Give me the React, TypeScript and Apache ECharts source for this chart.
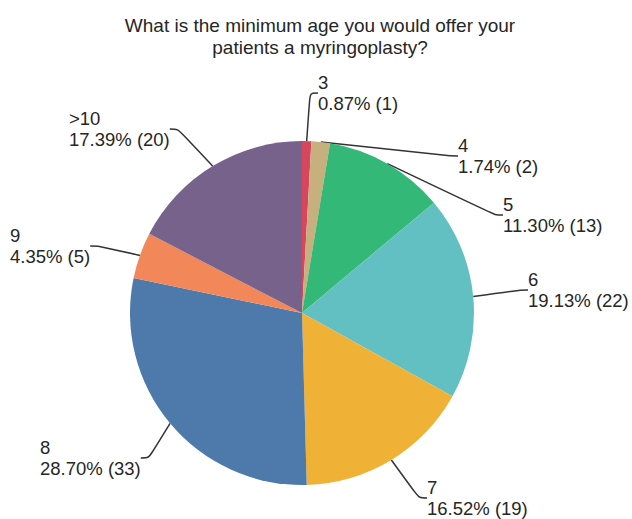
import React, { useEffect, useRef } from "react";
import * as echarts from "echarts";

const titleLines = ["What is the minimum age you would offer your", "patients a myringoplasty?"];
const categories = ["3", "4", "5", "6", "7", "8", "9", ">10"];
const counts = [1, 2, 13, 22, 19, 33, 5, 20];
const colors = ["#d6475e", "#c6b07d", "#34b877", "#62c0c3", "#efb136", "#4e79ab", "#f2875a", "#77628b"];

// label placements (top-left of each label block)
const labelPos: [number, number][] = [
  [318, 72],
  [458, 135],
  [503, 194],
  [528, 269],
  [427, 477],
  [40, 437],
  [10, 225],
  [69, 108],
];

export default function App() {
  const ref = useRef<HTMLDivElement>(null);
  useEffect(() => {
    document.body.style.margin = "0";
    if (!ref.current) return;
    const chart = echarts.init(ref.current, null, { renderer: "svg" });
    const total = counts.reduce((a, b) => a + b, 0);
    chart.setOption({
      animation: false,
      backgroundColor: "#ffffff",
      title: {
        text: titleLines.join("\n"),
        left: 315,
        textAlign: "center",
        top: 9,
        textStyle: {
          fontFamily: "Liberation Sans",
          fontSize: 19,
          fontWeight: "normal",
          color: "#262626",
          lineHeight: 22,
        },
      },
      series: [
        {
          type: "pie",
          center: [302, 313],
          radius: 172,
          startAngle: 90,
          clockwise: true,
          avoidLabelOverlap: false,
          color: colors,
          itemStyle: { borderWidth: 0 },
          data: categories.map((c, i) => ({ name: c, value: counts[i] })),
          label: {
            show: true,
            formatter: (p: any) =>
              `${p.name}\n${((p.value / total) * 100).toFixed(2)}% (${p.value})`,
            fontFamily: "Liberation Sans",
            fontSize: 18.5,
            lineHeight: 21,
            color: "#262626",
          },
          labelLine: {
            show: true,
            length: 10,
            length2: 8,
            smooth: 0.3,
            lineStyle: { color: "#333333", width: 1.5 },
          },
          labelLayout: (params: any) => {
            const pos = labelPos[params.dataIndex];
            return {
              x: pos[0],
              y: pos[1],
              align: "left",
              verticalAlign: "top",
            };
          },
        },
      ],
    });
    return () => chart.dispose();
  }, []);
  return <div ref={ref} style={{ width: 632, height: 519 }} />;
}
